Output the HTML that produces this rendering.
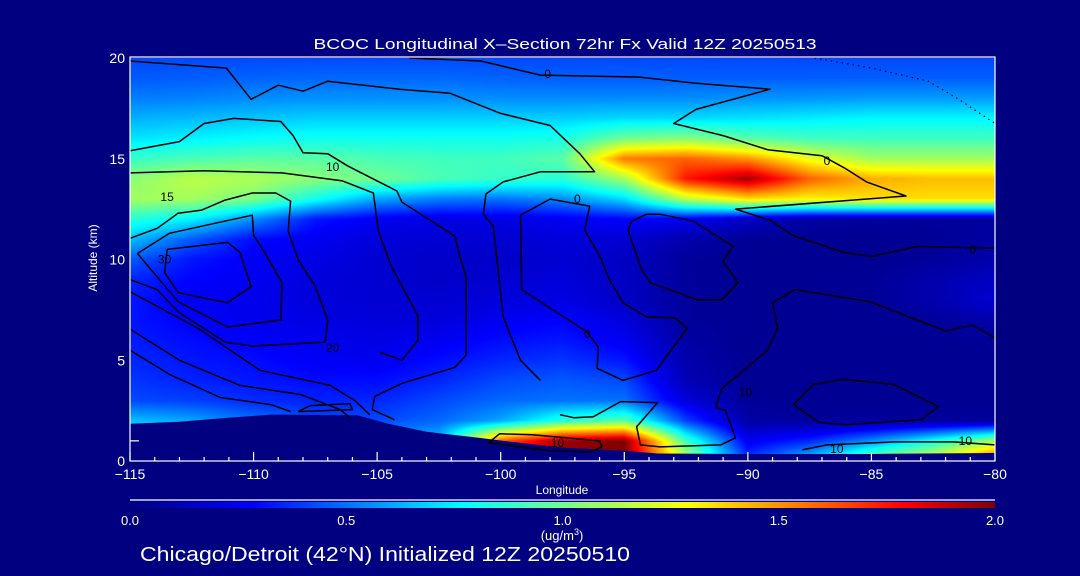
<!DOCTYPE html>
<html><head><meta charset="utf-8">
<style>
html,body{margin:0;padding:0;background:#000080;}
#wrap{position:relative;width:1080px;height:576px;background:#000080;overflow:hidden;font-family:"Liberation Sans",sans-serif;}
#field{position:absolute;left:130px;top:58px;}
#ov{position:absolute;left:0;top:0;}
</style></head>
<body>
<div id="wrap">
<canvas id="field" width="865" height="403"></canvas>
<canvas id="cbar" width="865" height="6" style="position:absolute;left:130px;top:502px;"></canvas>
<svg id="ov" width="1080" height="576"></svg>
</div>
<script>
// ---- data ----
const lonCats = [-115,-112.5,-110,-107.5,-105,-102.5,-100,-97.5,-95,-92.5,-90,-87.5,-85,-82.5,-80];
const altCats = [0,1,2,3,4,5,6,7,8,9,10,11,12,13,14,15,16,17,18,19,20];
const row20 = [.42,.42,.42,.42,.42,.42,.42,.42,.42,.42,.42,.42,.42,.42,.42];
const row19 = [.45,.46,.47,.48,.48,.48,.47,.46,.46,.46,.46,.46,.46,.46,.46];
const row18 = [.52,.53,.55,.56,.56,.56,.55,.55,.55,.55,.56,.57,.58,.58,.58];
const row17 = [.62,.64,.66,.68,.68,.68,.68,.68,.70,.70,.72,.74,.76,.76,.76];
const row16 = [.72,.75,.78,.80,.80,.80,.80,.82,1.0,1.05,.95,.90,.90,.90,.90];
const row15 = [.88,.92,.95,.95,.92,.90,.90,.95,1.55,1.6,1.5,1.25,1.1,1.1,1.1];
const row14 = [1.05,1.15,1.12,1.05,1.0,.92,.88,.85,1.1,1.75,1.95,1.6,1.45,1.42,1.42];
const row13 = [1.1,1.1,1.02,.8,.6,.52,.50,.55,.70,1.15,1.35,1.3,1.35,1.35,1.35];
const row12 = [.85,.75,.55,.32,.25,.22,.22,.25,.28,.25,.15,.08,.06,.06,.06];
const row11 = [.65,.45,.30,.25,.20,.18,.18,.20,.18,.10,.05,.04,.04,.05,.08];
const row10 = [.45,.32,.26,.22,.18,.16,.16,.18,.15,.06,.04,.04,.04,.06,.10];
const row9  = [.35,.28,.25,.20,.18,.16,.18,.20,.15,.06,.04,.04,.05,.10,.15];
const row8  = [.32,.26,.24,.20,.18,.18,.20,.22,.15,.06,.04,.04,.05,.10,.18];
const row7  = [.32,.27,.24,.22,.20,.20,.25,.28,.20,.06,.04,.04,.04,.06,.10];
const row6  = [.33,.30,.27,.24,.22,.25,.30,.32,.25,.08,.04,.04,.04,.04,.05];
const row5  = [.35,.32,.30,.26,.25,.30,.35,.38,.32,.10,.04,.04,.04,.04,.04];
const row4  = [.38,.34,.32,.30,.30,.35,.42,.45,.42,.12,.04,.04,.04,.04,.04];
const row3  = [.42,.40,.36,.34,.35,.42,.48,.50,.50,.20,.05,.04,.04,.04,.04];
const row2  = [.65,.60,.50,.42,.42,.48,.60,.85,.95,.40,.08,.06,.06,.06,.06];
const row1  = [.80,.75,.65,.55,.55,.65,1.6,1.95,2.0,.90,.25,.35,.55,.80,1.1];
const row0  = [.80,.75,.65,.55,.55,.65,1.8,2.0,2.0,1.2,.40,.70,1.1,1.3,1.7];
const terrainLon = [-115,-113,-111,-109.25,-105.8,-104.55,-103,-100.85,-99.9,-97.55,-94.9,-93.65,-90,-85,-80];
const terrainAlt = [1.85,1.95,2.15,2.3,2.27,1.85,1.45,1.15,1.0,0.67,0.5,0.37,0.35,0.35,0.4];
const xTicks = [-115,-110,-105,-100,-95,-90,-85,-80];
const yTicks = [0,5,10,15,20];
const cbTicks = [0.0,0.5,1.0,1.5,2.0];
const c1 = [[-115,19.85],[-111.1,19.5],[-110.1,17.95],[-109,18.65],[-108,18.35],[-107,18.85],[-104.1,18.45],[-102.05,18.25],[-100,17.25],[-98,16.65],[-96.8,15.25],[-96.2,14.35],[-98.4,14.35],[-99.9,13.85],[-100.6,13.25],[-100.7,12.25],[-100.3,11.65],[-99.9,7.15],[-99.2,5.0],[-98.4,4.0]];
const c2 = [[-103.7,20],[-100.8,19.85],[-98.4,19.15],[-94.4,19.05],[-92.1,18.75],[-89.1,18.45],[-92.1,17.45],[-93,16.75],[-91,16.15],[-89.2,15.45],[-87,15.15],[-86.1,14.55],[-85.2,13.85],[-83.6,13.15],[-90.5,12.5],[-89.1,11.95],[-88.2,11.2],[-86.1,10.35],[-85,10.15],[-83.15,10.65],[-80,10.55]];
const c3 = [[-115,15.4],[-113,15.85],[-112,16.75],[-110.8,17],[-108.9,16.85],[-108.4,16.15],[-108,15.3],[-107,15.25],[-106.2,14.65],[-105.4,14.15],[-104.2,13.4],[-104,12.85],[-101.85,11.15],[-101.7,10.35],[-101.4,9.15],[-101.4,5.25],[-101.85,4.65],[-104,3.85],[-105.1,3.2],[-105.2,2.55],[-104.3,2.05]];
const c4 = [[-115,14.3],[-112,14.4],[-108.85,14.3],[-106.4,13.9],[-105.15,13.3],[-104.95,11.4],[-104.4,9.6],[-103.35,7.2],[-103.35,6.0],[-104,5.0],[-104.9,5.4]];
const c5 = [[-115,9.0],[-113.9,8.5],[-113.05,7.4],[-111.15,5.9],[-110.05,5.7],[-107.1,5.9],[-107,7.0],[-107.5,8.65],[-108.2,10.0],[-108.6,11.4],[-108.5,12.9],[-109.1,13.3],[-110.05,13.3],[-111.15,12.95],[-112.1,12.45],[-113.05,12.3],[-113.9,11.55],[-115,11.05]];
const c6 = [[-113.5,10.5],[-111.05,10.85],[-110.55,10.35],[-110.1,8.65],[-111.05,7.85],[-113.05,8.35],[-113.6,9.35],[-113.5,10.5]];
const c7 = [[-114.7,10.3],[-113.4,11.3],[-111.55,11.8],[-110.05,12.2],[-110,11.2],[-109.65,10.55],[-108.85,8.85],[-108.9,7.0],[-111.05,6.65],[-113.05,7.9],[-114.7,10.3]];
const c8 = [[-99.2,12.2],[-98,13.0],[-96.4,12.65],[-96.6,11.45],[-96,10.2],[-95.6,9.0],[-95.05,7.85],[-94.1,7.15],[-92.95,7.1],[-92.45,6.6],[-93.7,4.5],[-95.05,4.0],[-96.1,4.6],[-96.05,5.65],[-96.5,6.4],[-97.7,7.35],[-99.15,8.5],[-99.2,12.2]];
const c9 = [[-94.7,11.9],[-94.1,12.25],[-93.55,12.25],[-92.2,11.9],[-90.6,10.65],[-91,9.9],[-90.4,8.85],[-91.05,8.0],[-92.05,8.0],[-93.95,8.85],[-94.3,9.5],[-94.85,11.45],[-94.7,11.9]];
const c10 = [[-80,6.1],[-80.9,6.75],[-82,6.45],[-85.05,7.9],[-88.1,8.5],[-89,7.85],[-88.8,6.6],[-89.2,5.5],[-91.05,3.6],[-91.3,2.65],[-90.9,2.5],[-90.5,1.15],[-91.1,0.8],[-93.55,0.7],[-94.35,0.8],[-94.5,1.7],[-93.65,2.9],[-95.15,2.95],[-96.25,2.2],[-97.05,2.15],[-97.6,2.3]];
const c11 = [[-88.15,2.8],[-87.35,3.8],[-86.15,4.05],[-84.1,3.8],[-82.3,2.7],[-83,2.05],[-86,1.8],[-87.1,1.9],[-88.15,2.8]];
const c12 = [[-87.8,0.55],[-86.8,0.8],[-84.1,0.95],[-81.7,0.95],[-80,0.8]];
const c13 = [[-100.5,0.9],[-100.05,1.35],[-98.7,1.3],[-96,1.0],[-95.9,0.7],[-96.4,0.45],[-98,0.5],[-100.5,0.9]];
const c14 = [[-115,8.4],[-112.2,6.55],[-109.75,4.5],[-106.9,3.75],[-105.9,3.0],[-105.3,2.3]];
const c15 = [[-115,6.55],[-113,5.0],[-110.55,3.75],[-108.1,3.3],[-106.5,2.55],[-106.1,2.15]];
const c16 = [[-115,5.5],[-113.4,4.3],[-111.35,3.15],[-109.3,2.8],[-108.5,2.45]];
const c17 = [[-108.2,2.45],[-107.7,2.75],[-106.1,2.85],[-106,2.55],[-108.2,2.45]];
const dotted1 = [[-87.3,20],[-85,19.5],[-82.7,18.85],[-81.4,17.9],[-80,16.75]];
const labelText = ["0","0","10","0","0","10","10","10","10","0","15","30","20"];
const labelLon = [-98.1,-96.9,-106.8,-86.8,-80.9,-97.7,-86.4,-81.2,-90.1,-96.5,-113.5,-113.6,-106.8];
const labelAlt = [19.2,13.0,14.6,14.9,10.5,0.9,0.6,1.0,3.4,6.3,13.1,10.0,5.6];

// ---- scales ----
const X0=130, X1=995, Y0=461, Y1=58;
function xs(lon){return X0+(lon+115)/35*(X1-X0);}
function ys(alt){return Y0-alt/20*(Y0-Y1);}
const grid=[row0,row1,row2,row3,row4,row5,row6,row7,row8,row9,row10,row11,row12,row13,row14,row15,row16,row17,row18,row19,row20];
const stops=[[0,[0,0,128]],[0.28,[0,0,255]],[0.77,[0,255,255]],[1.03,[128,255,128]],[1.29,[255,255,0]],[1.79,[255,0,0]],[2.0,[128,0,0]]];
function cmap(v){v=Math.max(0,Math.min(2,v));for(let i=1;i<stops.length;i++){if(v<=stops[i][0]){const a=stops[i-1],b=stops[i];const t=(v-a[0])/(b[0]-a[0]);return [0,1,2].map(k=>Math.round(a[1][k]+(b[1][k]-a[1][k])*t));}}return stops[stops.length-1][1];}
function sample(lon,alt){
  let fi=(lon-lonCats[0])/(lonCats[1]-lonCats[0]);let fj=(alt-altCats[0])/(altCats[1]-altCats[0]);
  fi=Math.max(0,Math.min(lonCats.length-1.0001,fi));fj=Math.max(0,Math.min(altCats.length-1.0001,fj));
  const i=Math.floor(fi),j=Math.floor(fj),ti=fi-i,tj=fj-j;
  const a=grid[j][i],b=grid[j][i+1],c=grid[j+1][i],d=grid[j+1][i+1];
  return (a*(1-ti)+b*ti)*(1-tj)+(c*(1-ti)+d*ti)*tj;
}
const cv=document.getElementById('field');const ctx=cv.getContext('2d');
const img=ctx.createImageData(cv.width,cv.height);
for(let py=0;py<cv.height;py++){for(let px=0;px<cv.width;px++){
  const lon=-115+(px+0.5)/(X1-X0)*35;const alt=(Y0-(Y1+py+0.5))/(Y0-Y1)*20;
  const c=cmap(sample(lon,alt));const o=(py*cv.width+px)*4;img.data[o]=c[0];img.data[o+1]=c[1];img.data[o+2]=c[2];img.data[o+3]=255;}}
ctx.putImageData(img,0,0);
const cb=document.getElementById('cbar').getContext('2d');
for(let px=0;px<865;px++){const c=cmap(px/864*2);cb.fillStyle='rgb('+c.join(',')+')';cb.fillRect(px,0,1,6);}

const svg=document.getElementById('ov');const NS='http://www.w3.org/2000/svg';
function mk(tag,attrs){const e=document.createElementNS(NS,tag);for(const k in attrs)e.setAttribute(k,attrs[k]);svg.appendChild(e);return e;}
let tp=terrainLon.map((l,i)=>xs(l)+','+ys(terrainAlt[i])).join(' ');
tp+=' '+xs(-80)+','+Y0+' '+xs(-115)+','+Y0;
const terr=mk('polygon',{points:tp,fill:'#000080'});


const contours=[c1,c2,c3,c4,c5,c6,c7,c8,c9,c10,c11,c12,c13,c14,c15,c16,c17];
contours.forEach((c,i)=>{
  const pl=mk('polyline',{points:c.map(p=>xs(p[0]).toFixed(1)+','+ys(p[1]).toFixed(1)).join(' '),fill:'none',stroke:'#000','stroke-width':1.5,'stroke-linejoin':'round'});
  
  
});
const dl=mk('polyline',{points:dotted1.map(p=>xs(p[0])+','+ys(p[1])).join(' '),fill:'none',stroke:'#000','stroke-width':1.2,'stroke-dasharray':'1.5 4'});


labelText.forEach((t,i)=>{
  const e=mk('text',{x:xs(labelLon[i]),y:ys(labelAlt[i])+4,'font-size':12,fill:'#000','text-anchor':'middle'});
  e.textContent=t;
  
  
});
const fr=mk('rect',{x:X0,y:Y1-1,width:X1-X0,height:Y0-Y1+1,fill:'none',stroke:'#fff','stroke-width':1.2});


for(let l=-115;l<=-80;l++){const major=(l%5===0);
  const t=mk('line',{x1:xs(l),x2:xs(l),y1:Y0,y2:Y0-(major?9:4),stroke:'#fff','stroke-width':1.2});
  
  }
xTicks.forEach(v=>{const e=mk('text',{x:xs(v),y:479,'font-size':14,fill:'#fff','text-anchor':'middle'});e.textContent=(v<0?'\u2212':'')+Math.abs(v);
  
  });
const yt=mk('line',{x1:X0,x2:X0+9,y1:ys(1),y2:ys(1),stroke:'#fff','stroke-width':1.2});


yTicks.forEach(v=>{const e=mk('text',{x:125,y:ys(v)+5,'font-size':14,fill:'#fff','text-anchor':'end'});e.textContent=v;
  
  });
let e=mk('text',{x:565,y:49,'font-size':15,fill:'#fff','text-anchor':'middle',textLength:503,lengthAdjust:'spacingAndGlyphs'});e.textContent='BCOC Longitudinal X\u2013Section 72hr  Fx Valid 12Z 20250513';


e=mk('text',{x:562,y:494,'font-size':12,fill:'#fff','text-anchor':'middle'});e.textContent='Longitude';


e=mk('text',{x:0,y:0,'font-size':12,fill:'#fff','text-anchor':'middle',transform:'translate(97,258) rotate(-90)'});e.textContent='Altitude (km)';


e=mk('line',{x1:130,x2:995,y1:500,y2:500,stroke:'#fff','stroke-width':1.2});


cbTicks.forEach(v=>{const t=mk('text',{x:130+v/2*865,y:525,'font-size':13,fill:'#fff','text-anchor':'middle'});t.textContent=v.toFixed(1);
  
  });
e=mk('text',{x:562,y:540,'font-size':13,fill:'#fff','text-anchor':'middle'});e.innerHTML='(ug/m<tspan dy="-5" font-size="9">3</tspan><tspan dy="5">)</tspan>';


e=mk('text',{x:140,y:561,'font-size':20,fill:'#fff',textLength:490,lengthAdjust:'spacingAndGlyphs'});e.textContent='Chicago/Detroit (42\u00B0N) Initialized 12Z 20250510';


</script>
</body></html>
